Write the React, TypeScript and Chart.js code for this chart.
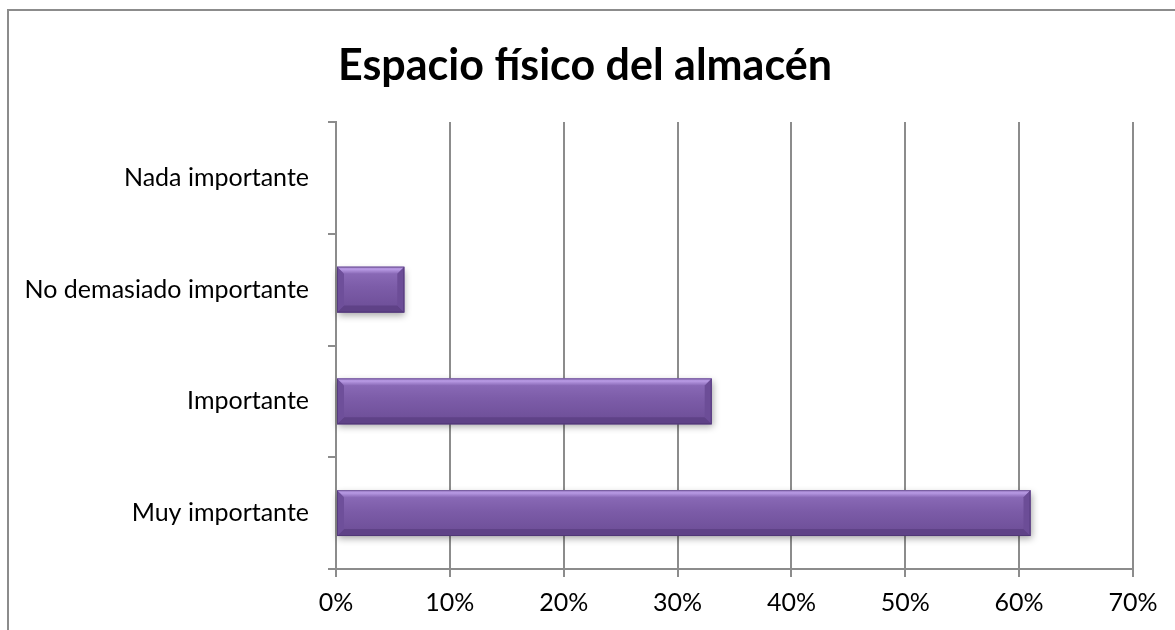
import React, { useEffect, useRef } from "react";
import { Chart, registerables } from "chart.js";

Chart.register(...registerables);

const TITLE = "Espacio físico del almacén";
const categories = ["Nada importante", "No demasiado importante", "Importante", "Muy importante"];
const values = [0, 6, 33, 61];
const xTicks = [0, 10, 20, 30, 40, 50, 60, 70];

const W = 1175;
const H = 630;
const FONT = "Lato, 'Open Sans', sans-serif";
const GRID = "#8c8c8c";

const titlePlugin = {
  id: "customTitle",
  afterDraw(chart: any) {
    const ctx = chart.ctx;
    ctx.save();
    ctx.font = `bold 43px ${FONT}`;
    ctx.fillStyle = "#000";
    ctx.textAlign = "center";
    ctx.textBaseline = "middle";
    ctx.fillText(TITLE, 585, 66.5);
    ctx.restore();
  },
};

const bevelPlugin = {
  id: "bevelBars",
  afterDatasetsDraw(chart: any) {
    const ctx = chart.ctx;
    const meta = chart.getDatasetMeta(0);
    meta.data.forEach((el: any) => {
      const x0 = Math.min(el.base, el.x);
      const x1 = Math.max(el.base, el.x);
      const w = x1 - x0;
      if (w < 1) return;
      const h = el.height;
      const y0 = el.y - h / 2;
      const y1 = el.y + h / 2;
      const b = Math.min(7, w / 2, h / 2);
      ctx.save();
      ctx.shadowColor = "rgba(0,0,0,0.35)";
      ctx.shadowBlur = 7;
      ctx.shadowOffsetX = 1;
      ctx.shadowOffsetY = 3;
      const g = ctx.createLinearGradient(0, y0, 0, y1);
      g.addColorStop(0, "#8f6fbc");
      g.addColorStop(0.45, "#7c5ca8");
      g.addColorStop(1, "#6b4c95");
      ctx.fillStyle = g;
      ctx.fillRect(x0, y0, w, h);
      ctx.restore();
      ctx.save();
      const gt = ctx.createLinearGradient(0, y0, 0, y0 + b);
      gt.addColorStop(0, "#a98ad4");
      gt.addColorStop(0.4, "#b698e2");
      gt.addColorStop(1, "#8b6bb8");
      ctx.fillStyle = gt;
      ctx.beginPath();
      ctx.moveTo(x0, y0);
      ctx.lineTo(x1, y0);
      ctx.lineTo(x1 - b, y0 + b);
      ctx.lineTo(x0 + b, y0 + b);
      ctx.closePath();
      ctx.fill();
      ctx.fillStyle = "#5f4287";
      ctx.beginPath();
      ctx.moveTo(x0, y1);
      ctx.lineTo(x1, y1);
      ctx.lineTo(x1 - b, y1 - b);
      ctx.lineTo(x0 + b, y1 - b);
      ctx.closePath();
      ctx.fill();
      ctx.fillStyle = "#6e4f9a";
      ctx.beginPath();
      ctx.moveTo(x0, y0);
      ctx.lineTo(x0 + b, y0 + b);
      ctx.lineTo(x0 + b, y1 - b);
      ctx.lineTo(x0, y1);
      ctx.closePath();
      ctx.fill();
      ctx.fillStyle = "#6c4d97";
      ctx.beginPath();
      ctx.moveTo(x1, y0);
      ctx.lineTo(x1 - b, y0 + b);
      ctx.lineTo(x1 - b, y1 - b);
      ctx.lineTo(x1, y1);
      ctx.closePath();
      ctx.fill();
      ctx.strokeStyle = "rgba(70,45,105,0.55)";
      ctx.lineWidth = 1;
      ctx.strokeRect(x0 + 0.5, y0 + 0.5, w - 1, h - 1);
      ctx.restore();
    });
  },
};

export default function App() {
  const ref = useRef<HTMLCanvasElement | null>(null);

  useEffect(() => {
    if (!ref.current) return;
    const chart = new Chart(ref.current, {
      type: "bar",
      data: {
        labels: categories,
        datasets: [
          {
            data: values,
            backgroundColor: "#7a5aa6",
            borderWidth: 0,
            barPercentage: 0.41,
            categoryPercentage: 1,
          },
        ],
      },
      options: {
        indexAxis: "y",
        animation: false,
        responsive: false,
        maintainAspectRatio: false,
        layout: { padding: { left: 0, right: 42, top: 122, bottom: 0 } },
        plugins: {
          legend: { display: false },
          tooltip: { enabled: false },
          title: { display: false },
        },
        scales: {
          x: {
            type: "linear",
            min: 0,
            max: 70,
            afterBuildTicks: (scale: any) => {
              scale.ticks = xTicks.map((v) => ({ value: v }));
            },
            afterFit: (scale: any) => {
              scale.height = 61;
            },
            ticks: {
              callback: (v: any) => `${v}%`,
              color: "#000",
              font: { family: FONT, size: 25 },
              padding: 11,
              maxRotation: 0,
            },
            grid: {
              color: GRID,
              lineWidth: 2,
              tickLength: 8,
              drawOnChartArea: true,
              drawTicks: true,
            },
            border: { display: true, color: GRID, width: 2 },
          },
          y: {
            type: "category",
            afterFit: (scale: any) => {
              scale.width = 336;
            },
            ticks: {
              color: "#000",
              font: { family: FONT, size: 25 },
              padding: 19,
            },
            grid: {
              color: GRID,
              lineWidth: 2,
              tickLength: 8,
              drawOnChartArea: false,
              drawTicks: true,
              offset: true,
            },
            border: { display: true, color: GRID, width: 2 },
          },
        },
      },
      plugins: [bevelPlugin, titlePlugin],
    });
    return () => chart.destroy();
  }, []);

  return (
    <div
      style={{
        position: "absolute",
        left: 0,
        top: 0,
        width: W,
        height: H,
        overflow: "hidden",
        background: "#fff",
      }}
    >
      <div
        style={{
          position: "absolute",
          left: 7,
          top: 9,
          width: W + 50,
          height: H + 50,
          borderLeft: `2px solid ${GRID}`,
          borderTop: `2px solid ${GRID}`,
          boxSizing: "border-box",
        }}
      />
      <canvas
        ref={ref}
        width={W}
        height={H}
        style={{ position: "absolute", left: 0, top: 0, width: W, height: H }}
      />
    </div>
  );
}
